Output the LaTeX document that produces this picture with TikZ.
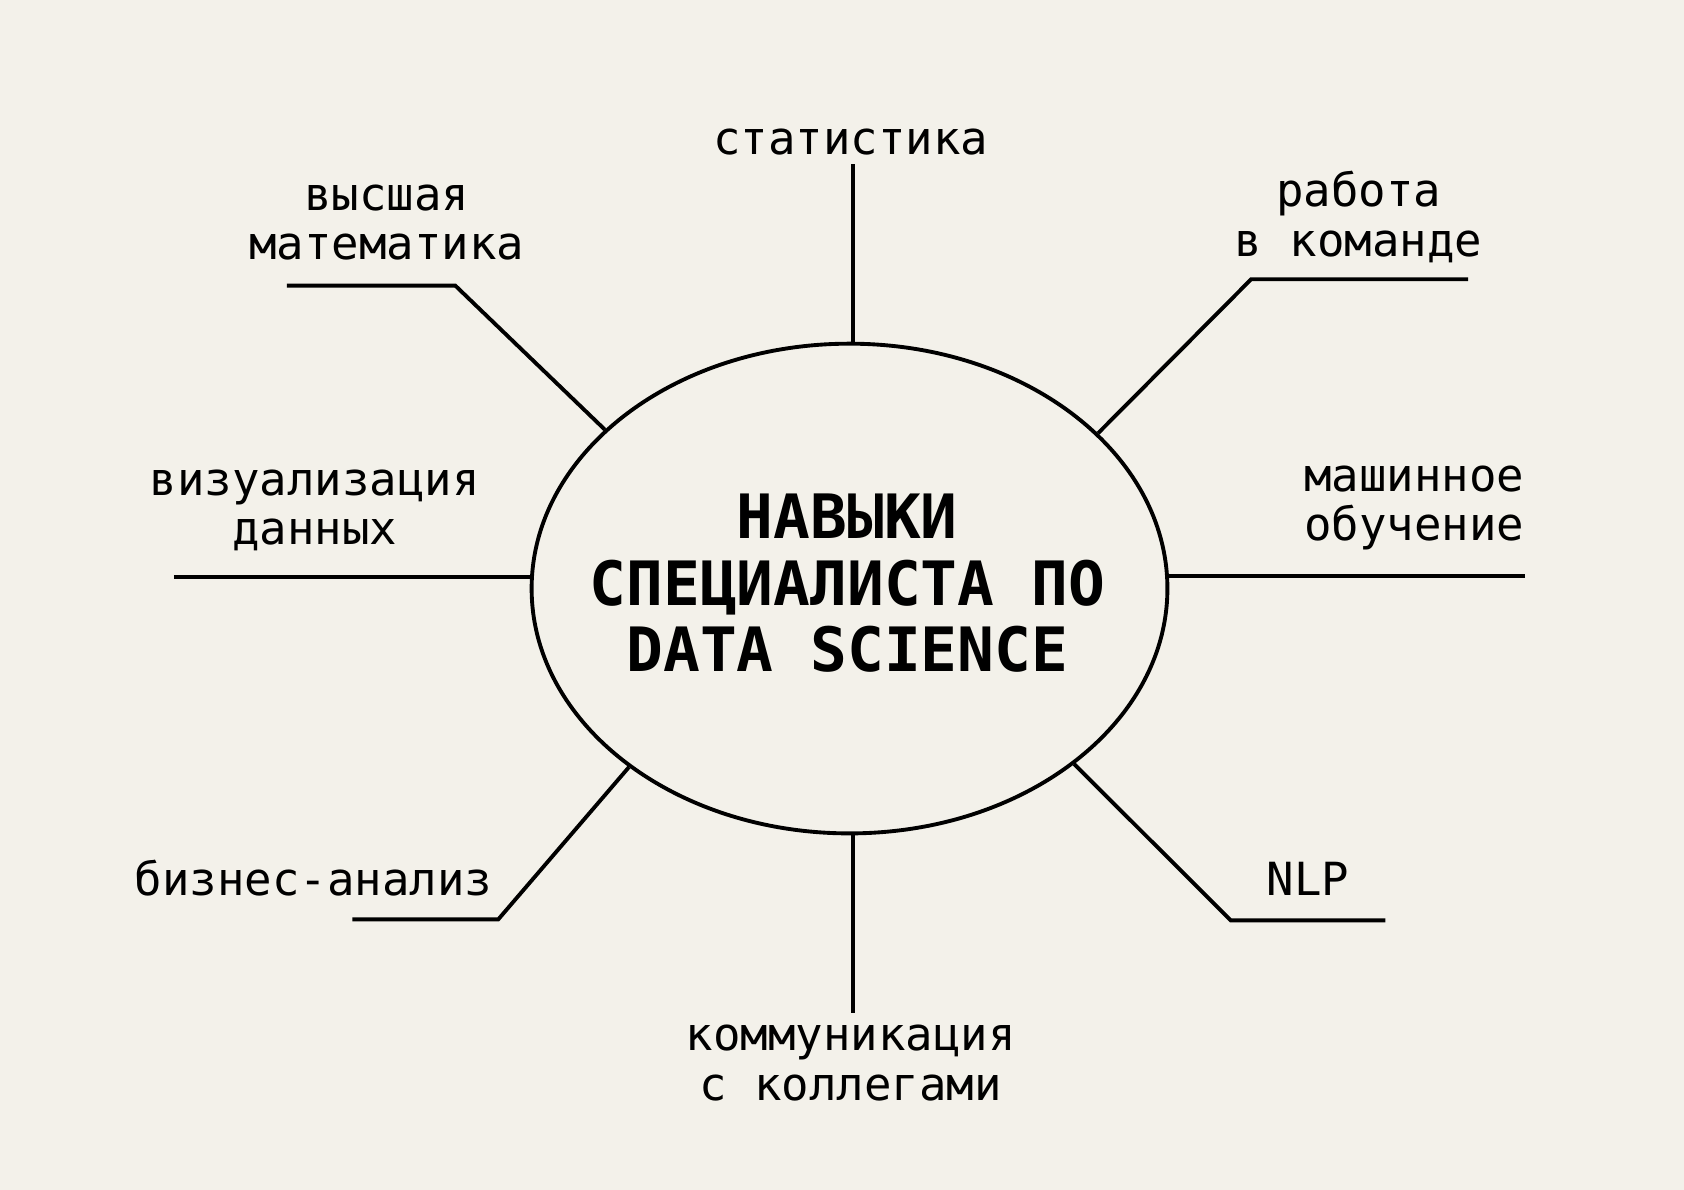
\documentclass[tikz,border=0pt]{standalone}
\usepackage{fontspec}
\setmainfont{DejaVu Sans Mono}
\usetikzlibrary{positioning,shapes.geometric}
\definecolor{paper}{HTML}{F3F1EA}
\tikzset{
  core/.style={ellipse, draw, line width=0.36mm, minimum width=59.2mm, minimum height=45.6mm, inner sep=0pt},
  headline/.style={align=center, inner sep=0pt, font=\fontsize{16.2}{17.6}\selectfont\bfseries},
  skill/.style={align=center, inner sep=0pt, font=\fontsize{12.1}{13.1}\selectfont},
  spoke/.style={line width=0.36mm},
}

\begin{document}
\begin{tikzpicture}[x=0.1mm, y=-0.1mm]
  \fill[paper] (0,0) rectangle (1568,1108); % page background
  \node[core] (core) at (791,548) {};
  \node[headline] (title) at (789,543) {НАВЫКИ\\СПЕЦИАЛИСТА ПО\\DATA SCIENCE};

  \node[skill] (stat) at (792,132) {статистика};
  \node[skill] (math) at (360,207) {высшая\\математика};
  \node[skill] (team) at (1265,202) {работа\\в команде};
  \node[skill] (viz) at (293,475) {визуализация\\данных};
  \node[skill] (ml) at (1317,473) {машинное\\обучение};
  \node[skill] (biz) at (292,818) {бизнес-анализ};
  \node[skill] (nlp) at (1218,818) {NLP};
  \node[skill] (comm) at (792,990) {коммуникация\\с коллегами};

  \coordinate (statend) at (794,153);
  \coordinate (mathend) at (267,266);
  \coordinate (mathbend) at (424,266);
  \coordinate (teamend) at (1367,260);
  \coordinate (teambend) at (1165,260);
  \coordinate (vizend) at (162,537);
  \coordinate (mlend) at (1420,536);
  \coordinate (bizend) at (328,856);
  \coordinate (bizbend) at (464,856);
  \coordinate (nlpend) at (1290,857);
  \coordinate (nlpbend) at (1146,857);
  \coordinate (commend) at (794,943);

  \draw[spoke] (statend) -- (statend |- core.north);
  \draw[spoke] (mathend) -- (mathbend) -- (core.147.6);
  \draw[spoke] (teamend) -- (teambend) -- (core.32.4);
  \draw[spoke] (vizend) -- (vizend -| core.west);
  \draw[spoke] (mlend) -- (mlend -| core.east);
  \draw[spoke] (bizend) -- (bizbend) -- (core.219.8);
  \draw[spoke] (nlpend) -- (nlpbend) -- (core.-38);
  \draw[spoke] (commend) -- (commend |- core.south);
\end{tikzpicture}
\end{document}
